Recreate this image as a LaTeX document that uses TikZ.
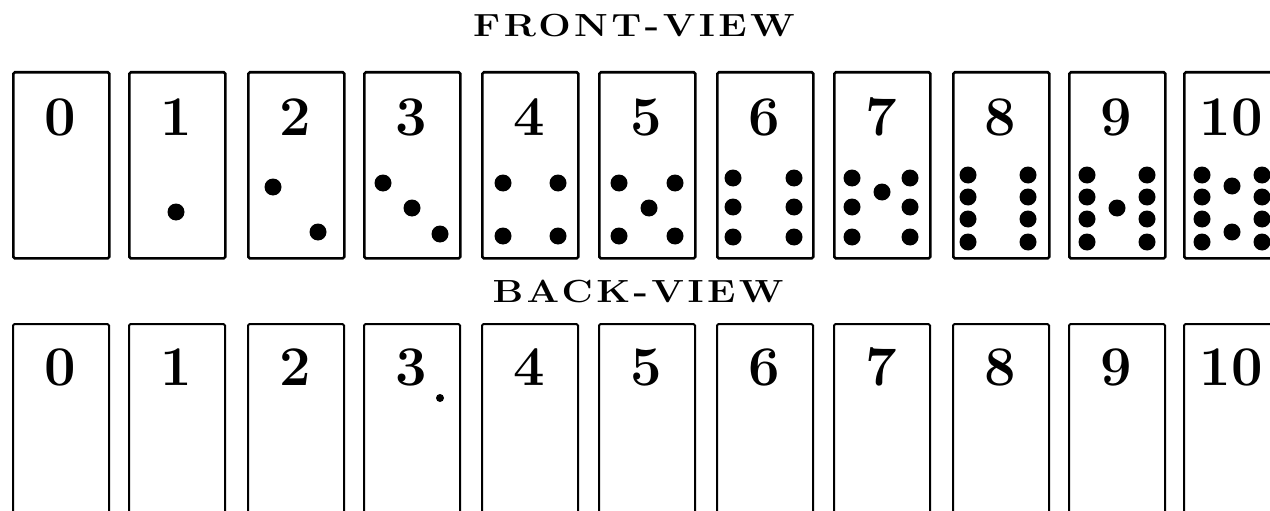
\documentclass[tikz,border=0pt]{standalone}
\usepackage{fontspec}
\setmainfont{Latin Modern Roman}
\begin{document}
\begin{tikzpicture}[x=1pt,y=-1pt,
  card/.style={draw, line width=2.6pt, rounded corners=1.5pt, minimum width=96pt, minimum height=186pt, inner sep=0pt, anchor=north west},
  backcard/.style={draw, line width=2pt, rounded corners=1.5pt, minimum width=96pt, minimum height=212pt, inner sep=0pt, anchor=north west},
  num/.style={font=\fontsize{56}{56}\selectfont\bfseries, inner sep=0pt},
  pip/.style={circle, fill, inner sep=0pt, minimum size=17pt},
  smallpip/.style={circle, fill, inner sep=0pt, minimum size=8pt},
  viewtitle/.style={font=\fontsize{32}{32}\selectfont\bfseries, inner sep=0pt}]
\useasboundingbox (0,0) rectangle (1270,511);
\clip (0,0) rectangle (1270,511);
\node[viewtitle] (ftitle) at (634,26) {\scalebox{1.2}[1]{\addfontfeature{LetterSpace=9}FRONT-VIEW}};
\node[viewtitle] (btitle) at (638,291) {\scalebox{1.2}[1]{\addfontfeature{LetterSpace=9}BACK-VIEW}};
\foreach \i/\l in {0/12,1/128,2/247,3/363,4/481,5/598,6/716,7/833,8/952,9/1068,10/1183} {
  \node[card] (f\i) at (\l,71) {};
  \node[num] (fn\i) at (\l+48,117) {\i};
  \node[backcard] (b\i) at (\l,323) {};
  \node[num] (bn\i) at (\l+48,367) {\i};
}
\node[smallpip] (bdot) at (440,398) {};
\foreach \x/\y [count=\k] in {176/212,
  273/187, 318/232,
  383/183, 412/208, 440/234,
  503/183, 558/183, 503/236, 558/236,
  619/183, 675/183, 649/208, 619/236, 675/236,
  733/178, 794/178, 733/207, 794/207, 733/237, 794/237,
  852/178, 910/178, 852/207, 910/207, 852/237, 910/237, 882/192,
  968/175, 1028/175, 968/197, 1028/197, 968/219, 1028/219, 968/242, 1028/242,
  1087/175, 1147/175, 1087/197, 1147/197, 1087/219, 1147/219, 1087/242, 1147/242, 1117/208,
  1202/175, 1262/175, 1202/197, 1262/197, 1202/219, 1262/219, 1202/242, 1262/242, 1232/186, 1232/232}
  \node[pip] (p\k) at (\x,\y) {};
\end{tikzpicture}
\end{document}
